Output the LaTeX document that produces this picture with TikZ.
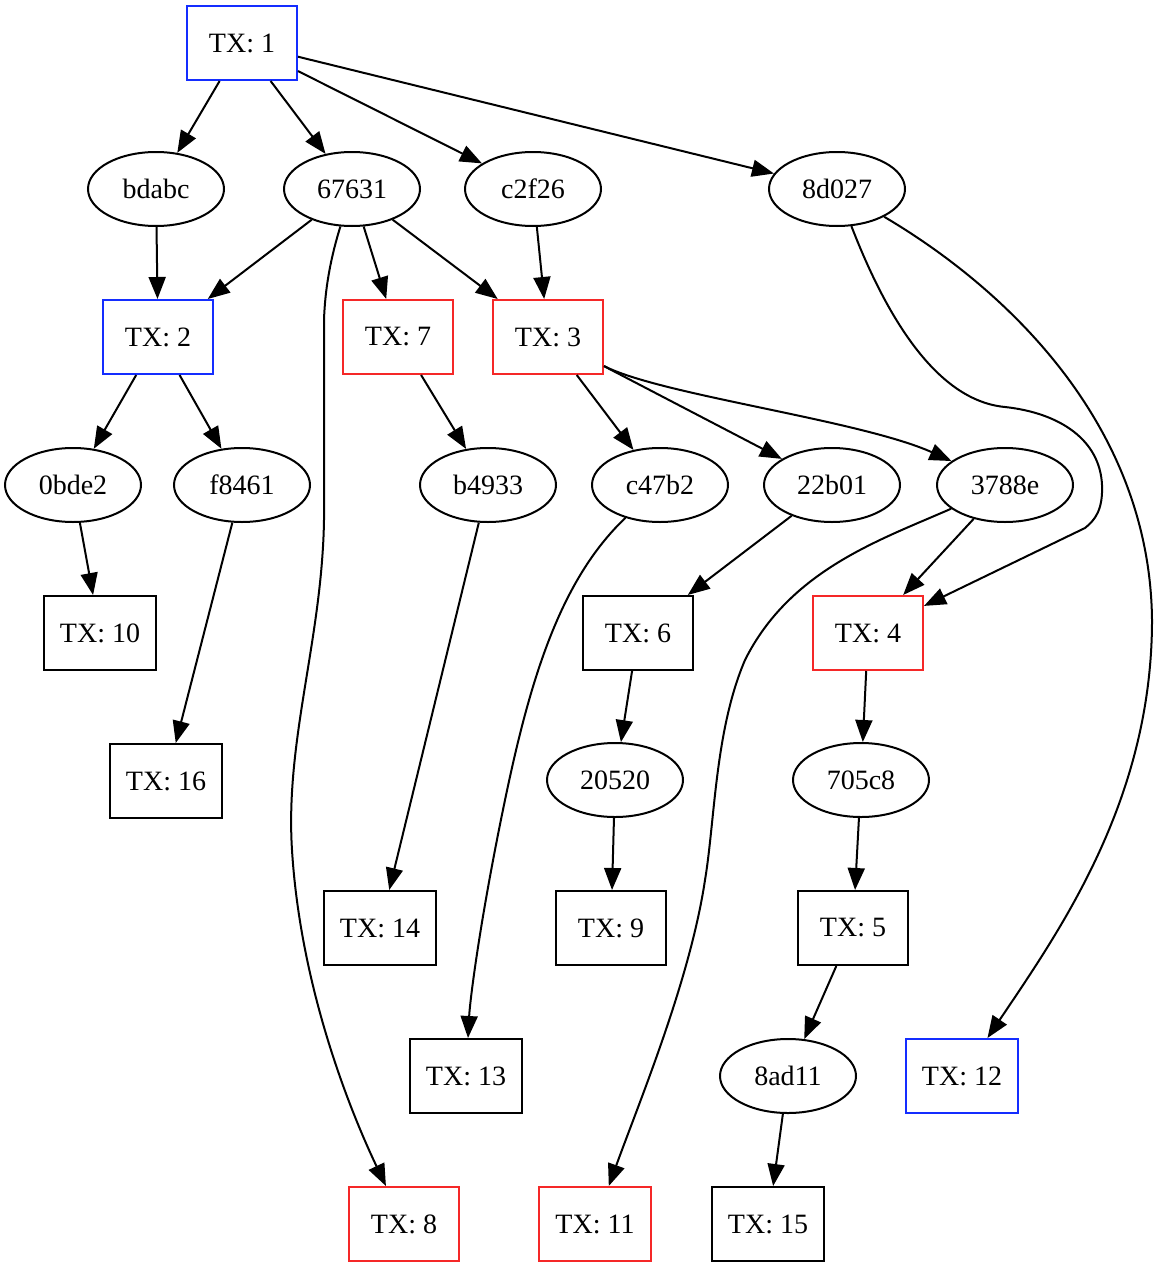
\documentclass[tikz,border=0pt]{standalone}
\usepackage{fontspec}
\setmainfont{Liberation Serif}
\usetikzlibrary{arrows.meta,shapes.geometric}
\definecolor{txblue}{RGB}{20,45,255}
\definecolor{txred}{RGB}{245,40,40}
\begin{document}
\begin{tikzpicture}[x=0.5pt, y=-0.5pt, line width=1pt,
    font=\fontsize{14}{16}\selectfont,
    >={Triangle[length=11pt,width=8.5pt]},
    tx/.style = {draw, rectangle, minimum width=55pt, minimum height=37pt, inner xsep=8pt},
    txb/.style = {tx, draw=txblue},
    txr/.style = {tx, draw=txred},
    utxo/.style = {draw, ellipse, minimum width=68pt, minimum height=37pt, inner sep=0pt}]
    \useasboundingbox (0,0) rectangle (1159,1268);

    \node[txb] (tx1) at (242,43) {TX: 1};

    \node[utxo] (bdabc) at (156,189) {bdabc};
    \node[utxo] (67631) at (352,189) {67631};
    \node[utxo] (c2f26) at (533,189) {c2f26};
    \node[utxo] (8d027) at (837,189) {8d027};

    \node[txb] (tx2) at (158,337) {TX: 2};
    \node[txr] (tx7) at (398,337) {TX: 7};
    \node[txr] (tx3) at (548,337) {TX: 3};

    \node[utxo] (0bde2) at (73,485) {0bde2};
    \node[utxo] (f8461) at (242,485) {f8461};
    \node[utxo] (b4933) at (488,485) {b4933};
    \node[utxo] (c47b2) at (660,485) {c47b2};
    \node[utxo] (22b01) at (832,485) {22b01};
    \node[utxo] (3788e) at (1005,485) {3788e};

    \node[tx] (tx10) at (100,633) {TX: 10};
    \node[tx] (tx6) at (638,633) {TX: 6};
    \node[txr] (tx4) at (868,633) {TX: 4};

    \node[tx] (tx16) at (166,781) {TX: 16};
    \node[utxo] (20520) at (615,780) {20520};
    \node[utxo] (705c8) at (861,780) {705c8};

    \node[tx] (tx14) at (380,928) {TX: 14};
    \node[tx] (tx9) at (611,928) {TX: 9};
    \node[tx] (tx5) at (853,928) {TX: 5};

    \node[tx] (tx13) at (466,1076) {TX: 13};
    \node[utxo] (8ad11) at (788,1076) {8ad11};
    \node[txb] (tx12) at (962,1076) {TX: 12};

    \node[txr] (tx8) at (404,1224) {TX: 8};
    \node[txr] (tx11) at (595,1224) {TX: 11};
    \node[tx] (tx15) at (768,1224) {TX: 15};

    \draw[->] (tx1) -- (bdabc);
    \draw[->] (tx1) -- (67631);
    \draw[->] (tx1) -- (c2f26);
    \draw[->] (tx1) -- (8d027);

    \draw[->] (bdabc) -- (tx2);
    \draw[->] (67631) -- (tx2);
    \draw[->] (67631) -- (tx7);
    \draw[->] (67631) -- (tx3);
    \draw[->] (67631) .. controls (330,260) and (325,290) .. (324,320)
        -- (324,520) .. controls (322,640) and (285,740) .. (292,850)
        .. controls (300,980) and (345,1100) .. (tx8);
    \draw[->] (c2f26) -- (tx3);
    \draw[->] (8d027) .. controls (880,300) and (930,400) .. (1005,407)
        .. controls (1060,413) and (1100,440) .. (1102,485)
        .. controls (1103,510) and (1095,520) .. (1085,528) -- (tx4);
    \draw[->] (8d027) .. controls (1000,285) and (1150,420) .. (1152,620)
        .. controls (1152,800) and (1060,930) .. (tx12);

    \draw[->] (tx2) -- (0bde2);
    \draw[->] (tx2) -- (f8461);
    \draw[->] (tx7) -- (b4933);
    \draw[->] (tx3) -- (c47b2);
    \draw[->] (tx3) -- (22b01);
    \draw[->] (tx3) .. controls (660,395) and (860,420) .. (3788e);

    \draw[->] (0bde2) -- (tx10);
    \draw[->] (f8461) -- (tx16);
    \draw[->] (b4933) -- (tx14);
    \draw[->] (c47b2) .. controls (560,580) and (530,680) .. (505,800)
        .. controls (480,920) and (470,1000) .. (tx13);
    \draw[->] (22b01) -- (tx6);
    \draw[->] (3788e) -- (tx4);
    \draw[->] (3788e) .. controls (880,540) and (790,570) .. (745,660)
        .. controls (715,730) and (715,820) .. (705,880)
        .. controls (690,980) and (640,1100) .. (tx11);

    \draw[->] (tx6) -- (20520);
    \draw[->] (20520) -- (tx9);
    \draw[->] (tx4) -- (705c8);
    \draw[->] (705c8) -- (tx5);
    \draw[->] (tx5) -- (8ad11);
    \draw[->] (8ad11) -- (tx15);
\end{tikzpicture}
\end{document}
